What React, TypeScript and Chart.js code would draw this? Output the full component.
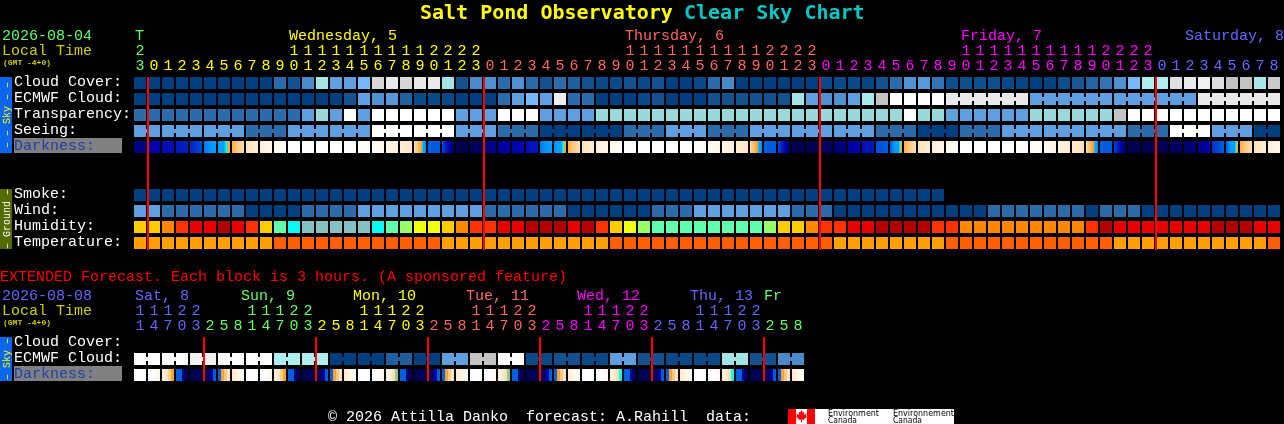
import { useEffect, useRef } from 'react';
import { Chart, registerables } from 'chart.js';

Chart.register(...registerables);

// forecast values, one per column (hourly block)
const cloudCover = [0,0,0,0,0,0,0,0,0,0,2,1,3,6.5,4,4,5,8.5,9,8.5,9,9,6.5,1,3,3.3,2,3.3,2,1,2,1.5,1,0.5,0.5,1,0.5,1,0,0,0.5,2,3,0,0,0,0,0,0,0.5,0.5,0.5,0.3,1,2,3.4,3.7,2.3,0.8,0.8,0.8,0.8,0.5,0.3,0,0.2,0.8,1.2,1.7,2.3,3.3,5,7,7,8.7,9,9.3,8.7,8,8,6.7,8.2];
const ecmwfCloud = [0,0,0,0,0,0,0,0,0,0,0,0,0,0,0,1,4,3.3,3.7,1.6,0.5,0.5,0.5,0,0,0,2,4,5,4,9.2,2,2,0,0,0,0.5,1,0,0,0,1,1,1,1,1,1,6.5,4,3.3,3.3,4,6.8,8,10,10,10,10,9,9,9,9,9,9,4,4,4,4,4,4,4,4,4,4,4,4,9,9,9,9,9,9];
const transparency = [2,2,2,2,2,2,2,2,2,2,2,2,4,6,4,10,4,10,10,10,10,10,10,4,4,4,10,10,10,4,4,4,4,6,6,6,6,6,6,6,6,6,6,6,6,6,6,6,6,6,6,6,6,6,6,10,6,6,4,4,4,4,4,4,6,6,6,6,6,6,8,10,10,10,10,10,10,10,10,10,10,10];
const seeing = [4,4,4,4,4,4,4,4,2,2,2,4,4,4,4,4,4,10,10,10,10,10,10,4,4,4,2,2,2,0,0,0,0,0,0,2,2,2,4,4,4,2,2,2,4,4,4,4,4,4,4,4,4,2,2,2,0,0,0,2,2,2,4,4,4,4,4,4,4,4,4,2,2,2,10,10,10,4,4,4,0,0];
const smoke = [0,0,0,0,0,0,0,0,0,0,0,0,0,0,0,0,0,0,0,0,0,0,0,0,0,0,0,0,0,0,0,0,0,0,0,0,0,0,0,0,0,0,0,0,0,0,0,0,0,0,0,0,0,0,0,0,0,0];
const wind = [4,4,2,2,2,2,2,2,0,0,0,0,2,2,2,2,4,4,4,4,4,4,4,4,4,2,2,2,2,2,2,0,0,0,0,0,0,2,2,2,4,4,4,4,4,4,4,2,2,2,0,0,0,0,0,0,0,0,0,0,0,2,2,2,2,2,2,2,0,2,2,2,0,0,0,0,0,0,0,0,0,0];
const humidity = [5,5,6,7,8,8,9,8,7,5,2,1,0,0,0,0,0,1,2,3,4,4,5,6,7,7,8,8,9,9,9,8,9,7,5,4,3,2,2,2,2,2,2,2,2,3,5,5,6,7,7,8,8,9,9,9,9,7,7,6,6,6,6,6,6,6,6,6,7,9,8,8,8,8,8,8,8,9,9,9,8,8];
const temperature = [0,0,0,0,0,0,0,0,0,0,1,1,1,1,1,1,1,1,1,1,1,1,0,0,0,0,0,0,0,0,0,0,0,0,1,1,1,1,1,1,1,1,1,1,1,1,1,1,1,1,0,0,0,0,0,0,0,0,1,1,1,1,1,1,1,1,1,1,1,1,0,0,0,0,0,0,0,0,0,0,0,1];
const darkness = [[9,9],[8,8],[7.5,7.3],[7,6.6],[6.4,5.4],[4.8,4.4],[4.5,3.8],[3.6,2.3],[2.2,1.5],[1.4,0.9],[0.7,0.2],[0,0],[0,0],[0,0],[0,0],[0,0],[0.1,0.3],[0.4,0.8],[0.9,1.3],[1.4,2],[2.3,4.8],[5,5.2],[5.3,9.7],[10,10],[9.8,9.8],[9.2,8.6],[8.6,8],[8,7.6],[7.5,7],[4.8,4.4],[4.7,3.8],[3.6,2.2],[2.2,1.5],[1.4,0.8],[0.7,0.2],[0,0],[0,0],[0,0],[0,0],[0,0],[0.1,0.4],[0.5,0.9],[1,1.4],[1.5,2],[2.4,4.8],[5,5.2],[5.3,9.7],[10,10],[10,10],[9.8,9.6],[9.2,9],[8.2,8],[7.4,7],[5.4,5],[5,3.8],[3.6,2.2],[2.2,1.6],[1.4,0.9],[0.7,0.3],[0,0],[0,0],[0,0],[0,0],[0.1,0.3],[0.2,0.5],[0.6,1],[1.1,1.6],[1.7,2.2],[2.4,4.8],[5,5.2],[5.4,9.7],[10,10],[10,10],[9.9,9.9],[9.7,9.7],[9.4,9.2],[9,8],[6,5],[5,3.8],[3.6,2.2],[2.2,1.5],[1.4,0.9]];

// extended forecast, each block is 3 hours
const extEcmwf = [10,10,10,10,9.3,9.3,10,10,10,10,7,7,7,7,0,0,0,0,1.5,1.5,0,0,4,4,8,8,10,10,0.5,0.5,1,1,0.5,0.5,4,4,1,1,0.5,0.5,0.5,0.5,6.5,6.5,1,1,3,3];
const extDarkness = [[0,0,0,0],[0,0,0.3,0.8],[1.2,2,2.8,3.8],[5,5,9,10],[10,10,10,10],[10,9.5,8.5,5],[5,3.8,3,2],[1.8,1.2,0.8,0.3],[0,0,0,0],[0,0,0.3,0.8],[1.2,2,2.8,3.8],[5,5,9,10],[10,10,10,10],[10,9.5,8.5,5],[5,3.8,3,2],[1.8,1.2,0.8,0.3],[0,0,0,0],[0,0,0.3,0.8],[1,1.5,2.2,3.95],[5,5,9,10],[10,10,10,10],[10,9.5,8,5],[5,3.8,2.8,2],[1.5,1.2,0.8,0.3],[0,0,0,0],[0,0,0.2,0.6],[1.2,1.8,2.2,3.95],[5,5,9.5,10],[10,10,10,10],[10,9.5,8,5],[5,3.8,3,2],[1.5,1,0.6,0.3],[0,0,0,0],[0,0,0.3,0.7],[1.2,1.8,2.3,4],[5,5,8.5,10],[10,10,10,10],[10,9.5,8.5,5],[5,3.8,3,2],[1.8,1.2,0.8,0.3],[0,0,0,0],[0,0,0.3,0.7],[1.2,1.8,2.3,4],[5,5,8.5,10],[10,10,10,10],[10,9.5,8.5,5],[5,3.8,3,2],[1.8,1.2,0.8,0.3]];

// tick labels
const mainHours = [23,0,1,2,3,4,5,6,7,8,9,10,11,12,13,14,15,16,17,18,19,20,21,22,23,0,1,2,3,4,5,6,7,8,9,10,11,12,13,14,15,16,17,18,19,20,21,22,23,0,1,2,3,4,5,6,7,8,9,10,11,12,13,14,15,16,17,18,19,20,21,22,23,0,1,2,3,4,5,6,7,8];
const extHours = [11,14,17,20,23,2,5,8,11,14,17,20,23,2,5,8,11,14,17,20,23,2,5,8,11,14,17,20,23,2,5,8,11,14,17,20,23,2,5,8,11,14,17,20,23,2,5,8];
const mainDays = ['T', 'Wednesday, 5', 'Thursday, 6', 'Friday, 7', 'Saturday, 8'];
const mainDayCols = [-0.36, 10.64, 34.64, 58.64, 74.64];
const extDays = ['Sat, 8', 'Sun, 9', 'Mon, 10', 'Tue, 11', 'Wed, 12', 'Thu, 13', 'Fr'];
const extDayCols = [-0.36, 7.21, 15.21, 23.29, 31.21, 39.29, 44.57];
const mainMidnights = [0, 24, 48, 72];
const extMidnights = [4, 12, 20, 28, 36, 44];

const dayColors = ['#66FF66', '#FFFF00', '#FF6666', '#FF00FF', '#6666FF'];
const cloudColors = ['#003F7F', '#13528F', '#2C6BAA', '#4A8ACA', '#5F9FE0', '#78B8F8', '#99D9D9', '#AFEEEE', '#C3C3C3', '#E9E9E9', '#FFFFFF'];
const humidityColors = ['#85C1C1', '#08F8F8', '#5FFFAF', '#99FF66', '#EEFF11', '#FFCC00', '#FF8800', '#FF3300', '#E60000', '#B30000'];
const tempColors = ['#FFA000', '#FF5F00'];
const darkLevels = [0, 1, 2, 3, 3.9, 4, 4.15, 4.5, 5, 6, 7, 8, 9, 10];
const darkColors = ['#FFFFFF', '#FFF5E6', '#FFE6C4', '#FFC878', '#FFA020', '#00FFFF', '#00A0FF', '#00A0FF', '#0060E0', '#0030CC', '#0018BC', '#0000B0', '#000080', '#000050'];

const rgb = (hex: string) => [1, 3, 5].map((p) => parseInt(hex.slice(p, p + 2), 16));

function mix(a: string, b: string, t: number) {
  const ca = rgb(a);
  const cb = rgb(b);
  const c = ca.map((v, i) => Math.round(v + (cb[i] - v) * t));
  return `rgb(${c[0]},${c[1]},${c[2]})`;
}

function cloudColor(level: number) {
  const lo = Math.floor(level);
  return mix(cloudColors[lo], cloudColors[Math.min(lo + 1, 10)], level - lo);
}

function darkColor(level: number) {
  let i = 0;
  while (i < darkLevels.length - 2 && level > darkLevels[i + 1]) i++;
  return mix(darkColors[i], darkColors[i + 1], (level - darkLevels[i]) / (darkLevels[i + 1] - darkLevels[i]));
}

const cellBar = (centerY: number, values: number[], color: (v: number) => string) => ({
  data: values.map((_, i) => ({ x: i, y: [centerY - 6, centerY + 6] })),
  backgroundColor: values.map(color),
  barThickness: 12,
  inflateAmount: 0,
});

// small bridge between two cells of one forecast block
const joinBar = (centerY: number, values: number[], cols: number[]) => ({
  data: cols.map((c) => ({ x: c + 0.5, y: [centerY - 2, centerY + 2] })),
  backgroundColor: cols.map((c) => cloudColor(values[c])),
  barThickness: 2,
  inflateAmount: 0,
});

// darkness cells change colour inside the cell, so they get a gradient
const darkBar = (centerY: number, values: number[][], stepped: boolean) => ({
  data: values.map((_, i) => ({ x: i, y: [centerY - 6, centerY + 6] })),
  barThickness: 12,
  inflateAmount: 0,
  backgroundColor: (c: any) => {
    if (c.dataIndex === undefined) return '#000';
    const px = c.chart.scales.x.getPixelForValue(c.dataIndex);
    if (!Number.isFinite(px)) return '#000'; // scale not laid out yet
    const g = c.chart.ctx.createLinearGradient(px - 6, 0, px + 6, 0);
    const lv = values[c.dataIndex];
    if (stepped) {
      lv.forEach((v, k) => {
        g.addColorStop(k / lv.length, darkColor(v));
        g.addColorStop((k + 1) / lv.length, darkColor(v));
      });
    } else {
      for (let k = 0; k <= 24; k++) g.addColorStop(k / 24, darkColor(lv[0] + ((lv[1] - lv[0]) * k) / 24));
    }
    return g;
  },
});

const redLine = (cols: number[], top: number, bottom: number) => ({
  data: cols.map((c) => ({ x: c + 4 / 7, y: [top, bottom] })),
  backgroundColor: '#FF0000',
  barThickness: 2,
  inflateAmount: 0,
});

const range = (from: number, to: number) => Array.from({ length: to - from + 1 }, (_, i) => from + i);

const FONT = '15px "Liberation Mono", monospace';
const MAIN_ROWS = ['Cloud Cover:', 'ECMWF Cloud:', 'Transparency:', 'Seeing:'];
const GROUND_ROWS = ['Smoke:', 'Wind:', 'Humidity:', 'Temperature:'];

function text(ctx: CanvasRenderingContext2D, s: string, x: number, y: number, color: string, font = FONT) {
  ctx.font = font;
  ctx.fillStyle = color;
  ctx.fillText(s, x, y);
}

function sideBar(ctx: CanvasRenderingContext2D, top: number, bottom: number, bg: string, fg: string, s: string) {
  ctx.fillStyle = bg;
  ctx.fillRect(0, top, 12, bottom - top);
  ctx.save();
  ctx.translate(9.5, (top + bottom) / 2);
  ctx.rotate(-Math.PI / 2);
  ctx.textAlign = 'center';
  text(ctx, s, 0, 0, fg, '10px "Liberation Mono", monospace');
  ctx.restore();
}

function hourRows(ctx: CanvasRenderingContext2D, x: any, hours: number[], startDay: number, tensY: number, unitsY: number) {
  let day = startDay;
  hours.forEach((h, i) => {
    if (i > 0 && h < hours[i - 1]) day++;
    const color = dayColors[day % 5];
    const px = x.getPixelForValue(i) - 4.5;
    if (h >= 10) text(ctx, String(Math.floor(h / 10)), px, tensY, color);
    text(ctx, String(h % 10), px, unitsY, color);
  });
}

const labelsPlugin = {
  id: 'cscLabels',
  afterDraw(chart: any) {
    const { ctx, scales } = chart;
    const x = scales.x;
    const y = scales.y;
    ctx.save();
    ctx.textBaseline = 'alphabetic';

    const bold = 'bold 20px "DejaVu Sans Mono", monospace';
    text(ctx, 'Salt Pond Observatory', 420, 19, '#FFFF00', bold);
    text(ctx, 'Clear Sky Chart', 684, 19, '#00C8C8', bold);

    text(ctx, '2026-08-04', 2, 40, '#66FF66');
    text(ctx, 'Local Time', 2, 55, '#CCCC00');
    text(ctx, '(GMT -4+0)', 3, 65, '#CCCC00', 'bold 8px "Liberation Mono", monospace');
    mainDays.forEach((d, i) => text(ctx, d, x.getPixelForValue(mainDayCols[i]), 40, dayColors[i]));
    hourRows(ctx, x, mainHours, 0, 55, 70);

    MAIN_ROWS.forEach((s, i) => text(ctx, s, 14, y.getPixelForValue(83 + i * 16) + 3, '#FFFFFF'));
    ctx.fillStyle = '#808080';
    ctx.fillRect(14, 138, 108, 15);
    text(ctx, 'Darkness:', 14, 150, '#1C3FA8');
    GROUND_ROWS.forEach((s, i) => text(ctx, s, 14, y.getPixelForValue(195 + i * 16) + 3, '#FFFFFF'));
    sideBar(ctx, 77, 153, '#0A66EE', '#FFFF00', '– – Sky – –');
    sideBar(ctx, 189, 249, '#556B00', '#FFFFFF', '– Ground –');

    text(ctx, 'EXTENDED Forecast. Each block is 3 hours. (A sponsored feature)', 0, 281, '#FF0000');
    text(ctx, '2026-08-08', 2, 300, '#6666FF');
    text(ctx, 'Local Time', 2, 315, '#CCCC00');
    text(ctx, '(GMT -4+0)', 3, 325, '#CCCC00', 'bold 8px "Liberation Mono", monospace');
    extDays.forEach((d, i) => text(ctx, d, x.getPixelForValue(extDayCols[i]), 300, dayColors[(i + 4) % 5]));
    hourRows(ctx, x, extHours, 4, 315, 330);

    text(ctx, 'Cloud Cover:', 14, 346, '#FFFFFF');
    text(ctx, 'ECMWF Cloud:', 14, 362, '#FFFFFF');
    ctx.fillStyle = '#808080';
    ctx.fillRect(14, 366, 108, 15);
    text(ctx, 'Darkness:', 14, 378, '#1C3FA8');
    sideBar(ctx, 337, 381, '#0A66EE', '#FFFF00', '– Sky –');

    text(ctx, '© 2026 Attilla Danko  forecast: A.Rahill  data:', 328, 421, '#FFFFFF');

    // Environment Canada logo
    ctx.fillStyle = '#FFFFFF';
    ctx.fillRect(788, 409, 166, 15);
    ctx.fillStyle = '#FF0000';
    ctx.fillRect(788, 409, 8, 15);
    ctx.fillRect(807, 409, 8, 15);
    const leaf = [[0, -6], [1.5, -3.5], [3, -4], [2.5, -1], [5, -2.5], [4.5, 0], [5.5, 1], [2.5, 3], [3, 4], [0.5, 3.5], [0.5, 6]];
    ctx.beginPath();
    leaf.forEach(([a, b], i) => (i ? ctx.lineTo(801.5 + a, 416 + b) : ctx.moveTo(801.5 + a, 416 + b)));
    [...leaf].reverse().forEach(([a, b]) => ctx.lineTo(801.5 - a, 416 + b));
    ctx.closePath();
    ctx.fill();
    ctx.fillStyle = '#000000';
    ctx.font = '8px "DejaVu Sans", sans-serif';
    ctx.fillText('Environment', 828, 416, 51);
    ctx.fillText('Canada', 828, 423, 29);
    ctx.fillText('Environnement', 893, 416, 61);
    ctx.fillText('Canada', 893, 423, 29);
    ctx.restore();
  },
};

export default function App() {
  const canvasRef = useRef<HTMLCanvasElement>(null);

  useEffect(() => {
    if (!canvasRef.current) return;
    const seeingJoins = range(0, 80).filter((i) => (i + 1) % 3 !== 2);
    const ecmwfJoins = range(58, 80).filter((i) => (i - 58) % 6 !== 5);
    const extJoins = range(0, 47).filter((i) => i % 2 === 0);

    const chart = new Chart(canvasRef.current, {
      type: 'bar',
      data: {
        datasets: [
          redLine(mainMidnights, 77, 250),
          redLine(extMidnights, 337, 381),
          cellBar(83, cloudCover, cloudColor),
          cellBar(99, ecmwfCloud, cloudColor),
          joinBar(99, ecmwfCloud, ecmwfJoins),
          cellBar(115, transparency, cloudColor),
          cellBar(131, seeing, cloudColor),
          joinBar(131, seeing, seeingJoins),
          darkBar(147, darkness, false),
          cellBar(195, smoke, cloudColor),
          cellBar(211, wind, cloudColor),
          cellBar(227, humidity, (v) => humidityColors[v]),
          cellBar(243, temperature, (v) => tempColors[v]),
          cellBar(359, extEcmwf, cloudColor),
          joinBar(359, extEcmwf, extJoins),
          darkBar(375, extDarkness, true),
        ] as any,
      },
      options: {
        responsive: false,
        animation: false,
        events: [],
        layout: { padding: 0 },
        datasets: { bar: { grouped: false } },
        plugins: { legend: { display: false }, tooltip: { enabled: false } },
        scales: {
          x: { type: 'linear', display: false, offset: false, min: -10, max: 1144 / 14 },
          y: { type: 'linear', display: false, reverse: true, min: 0, max: 424 },
        },
      },
      plugins: [labelsPlugin],
    });

    return () => chart.destroy();
  }, []);

  return (
    <div style={{ position: 'fixed', left: 0, top: 0, width: 1284, height: 424, background: '#000' }}>
      <canvas ref={canvasRef} width={1284} height={424} style={{ display: 'block' }} />
    </div>
  );
}
